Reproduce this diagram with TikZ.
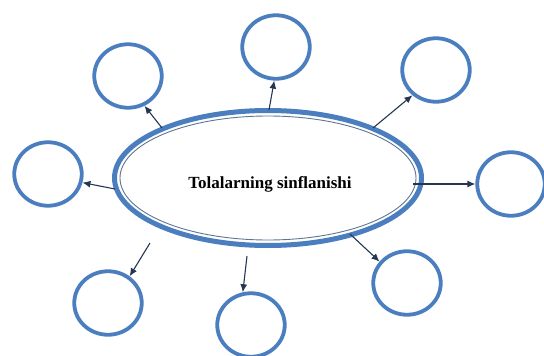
\documentclass[tikz,border=0pt]{standalone}
\usepackage{fontspec}
\setmainfont{Liberation Serif}
\usetikzlibrary{shapes.geometric,arrows.meta}
\definecolor{ringblue}{HTML}{4A7EBF}
\definecolor{innerline}{HTML}{5F7590}
\definecolor{arrowcol}{HTML}{243650}
\tikzset{
  ring/.style={ellipse, draw=ringblue, line width=3.8pt, inner sep=0pt,
    minimum width=67.5pt, minimum height=63.5pt},
  conn/.style={draw=arrowcol, line width=1.1pt, -{Latex[length=8pt,width=7pt]}}
}
\begin{document}
\begin{tikzpicture}[x=1pt,y=-1pt]
\useasboundingbox (0,0) rectangle (544,356);
% central ellipse
\node[ellipse, draw=ringblue, line width=5pt, minimum width=307pt, minimum height=135pt, inner sep=0pt] (c) at (268,178) {};
\draw[innerline, line width=0.9pt] (c.center) ellipse [x radius=148pt, y radius=62pt];
\node[font=\bfseries\fontsize{17}{20}\selectfont] (t) at (270,184) {Tolalarning sinflanishi};
% outer circles
\node[ring] (n1) at (128,76) {};
\node[ring] (n2) at (276,47) {};
\node[ring] (n3) at (436,70) {};
\node[ring] (n4) at (48,174) {};
\node[ring] (n5) at (511,184) {};
\node[ring] (n6) at (108,303) {};
\node[ring] (n7) at (251,325) {};
\node[ring] (n8) at (407,283) {};
% connector starts
\coordinate (s1) at (162,128);
\coordinate (s2) at (269,110);
\coordinate (s3) at (373,128);
\coordinate (s4) at (115,189);
\coordinate (s5) at (413,184);
\coordinate (s6) at (150,243);
\coordinate (s7) at (247,256);
\coordinate (s8) at (350,234);
\draw[conn] (s1) -- (n1.-61);
\draw[conn] (s2) -- (n2.-93);
\draw[conn] (s3) -- (n3.-133);
\draw[conn] (s4) -- (n4.-14);
\draw[conn] (s5) -- (n5.180);
\draw[conn] (s6) -- (n6.51);
\draw[conn] (s7) -- (n7.104);
\draw[conn] (s8) -- (n8.142);
\end{tikzpicture}
\end{document}
